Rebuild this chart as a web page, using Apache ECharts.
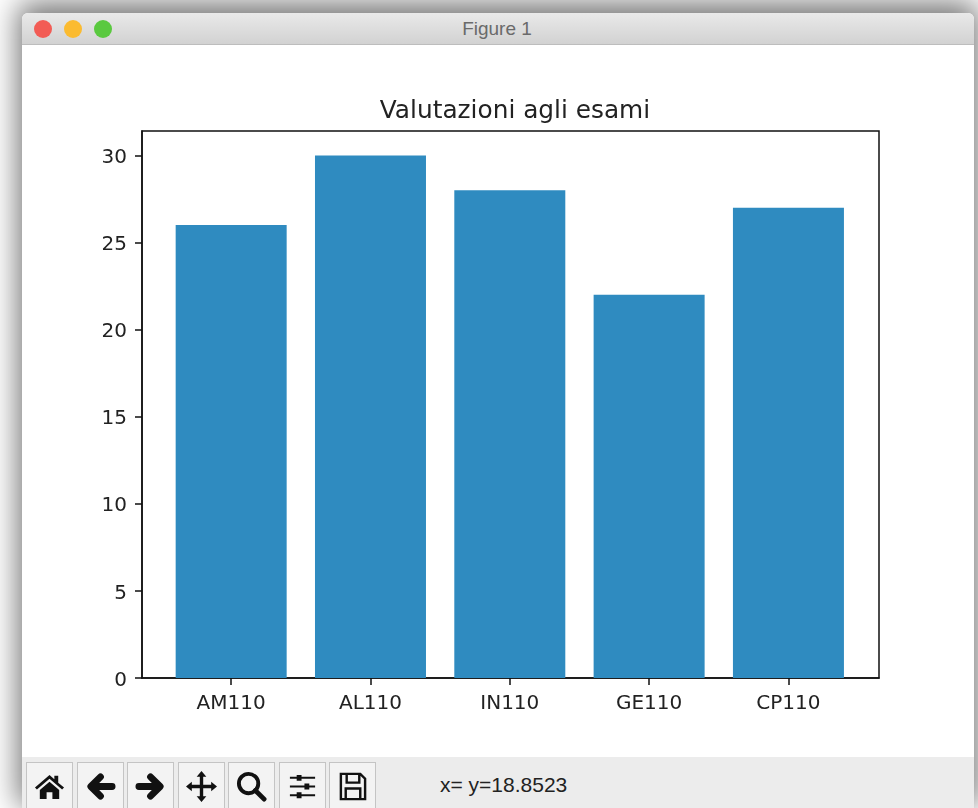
<!DOCTYPE html>
<html>
<head>
<meta charset="utf-8">
<title>Valutazioni agli esami</title>
<script src="https://cdn.jsdelivr.net/npm/echarts@6/dist/echarts.min.js"></script>
<style>
  html, body { margin: 0; padding: 0; width: 978px; height: 808px; overflow: hidden; background: #fff; }
  #win { position: absolute; left: 22px; top: 13px; width: 952px; height: 795px; background: #fff; border-radius: 6px 6px 0 0; box-shadow: 0 -6px 30px 4px rgba(0,0,0,.55); }
  #bar { position: absolute; left: 0; top: 0; width: 100%; height: 31px; background: linear-gradient(#e9e9e9, #d2d2d2); border-bottom: 1px solid #bdbdbd; border-radius: 6px 6px 0 0; }
  .dot { position: absolute; top: 7px; width: 18px; height: 18px; border-radius: 50%; }
  #name { position: absolute; left: 0; width: 100%; top: 5px; text-align: center; font: 19px "Liberation Sans", sans-serif; color: #6a6a6a; margin-left: -1px; }
  #tools { position: absolute; left: 0; top: 744px; width: 100%; height: 51px; background: #ececec; overflow: hidden; }
  .btn { position: absolute; top: 5px; width: 45px; height: 46px; border: 1px solid #c4c4c4; border-bottom: 0; background: #f3f3f3; }
  .btn svg { position: absolute; left: 7px; top: 8px; width: 31px; height: 31px; }
  #coord { position: absolute; left: 418px; top: 16px; font: 21px "Liberation Sans", sans-serif; color: #222; line-height: 24px; }
  #main { position: absolute; left: 0; top: 0; width: 978px; height: 808px; filter: blur(0.4px); }
</style>
</head>
<body>
<div id="win">
  <div id="bar">
    <div class="dot" style="left:12px;background:#f25c55"></div>
    <div class="dot" style="left:42px;background:#fbbb30"></div>
    <div class="dot" style="left:72px;background:#5ac93f"></div>
    <div id="name">Figure 1</div>
  </div>
  <div id="tools">
    <div class="btn" style="left:4px"><svg viewBox="0 0 32 32"><path d="M16 4 1 17l2 2L16 8l13 11 2-2-6-5V5h-4v3.500zM6 19.500V29h7v-7h6v7h7v-9.500L16 11z" fill="#111"/></svg></div>
    <div class="btn" style="left:55px"><svg viewBox="0 0 32 32"><path d="M28 16H7M16 6 6 16l10 10" fill="none" stroke="#111" stroke-width="7" stroke-linecap="round" stroke-linejoin="round"/></svg></div>
    <div class="btn" style="left:105px"><svg viewBox="0 0 32 32"><path d="M4 16h21M16 6l10 10-10 10" fill="none" stroke="#111" stroke-width="7" stroke-linecap="round" stroke-linejoin="round"/></svg></div>
    <div class="btn" style="left:156px"><svg viewBox="0 0 32 32"><path d="M16 3v26M3 16h26" stroke="#111" stroke-width="3.500"/><path d="M16 0l5 6H11zM16 32l-5-6h10zM0 16l6-5v10zM32 16l-6 5V11z" fill="#111"/></svg></div>
    <div class="btn" style="left:206px"><svg viewBox="0 0 32 32"><circle cx="13" cy="13" r="10" fill="none" stroke="#111" stroke-width="4"/><path d="M20 20l9 9" stroke="#111" stroke-width="5" stroke-linecap="round"/></svg></div>
    <div class="btn" style="left:257px"><svg viewBox="0 0 32 32"><path d="M3 7h26M3 16h26M3 25h26" stroke="#111" stroke-width="2"/><path d="M10 4h5v6h-5zM18 13h5v6h-5zM10 22h5v6h-5z" fill="#111"/></svg></div>
    <div class="btn" style="left:307px"><svg viewBox="0 0 32 32"><path d="M4 3h20l5 5v21H4zM10 3v9h13V3M9 29V18h15v11" fill="none" stroke="#111" stroke-width="2.500"/></svg></div>
    <div id="coord">x= y=18.8523</div>
  </div>
</div>
<div id="main"></div>
<script>
const exams = ["AM110", "AL110", "IN110", "GE110", "CP110"];
const grades = [26, 30, 28, 22, 27];
const examPositions = [0, 1, 2, 3, 4];
const chartTitle = "Valutazioni agli esami";

const myChart = echarts.init(document.getElementById("main"), null, { renderer: "canvas" });

myChart.setOption({
  backgroundColor: "transparent",
  animation: false,
  title: {
    text: chartTitle,
    left: 510,
    top: 94,
    textAlign: "center",
    textStyle: { fontFamily: "DejaVu Sans", fontSize: 24.8, fontWeight: "normal", color: "#222" }
  },
  grid: {
    left: 142, top: 131, width: 737, height: 547,
    show: true, borderColor: "#111", borderWidth: 1.5
  },
  xAxis: {
    type: "value",
    min: -0.64,
    max: 4.65,
    splitLine: { show: false },
    axisLine: { onZero: false, lineStyle: { color: "#111", width: 1.5 } },
    axisTick: { customValues: examPositions, length: 7, lineStyle: { color: "#111", width: 1.5 } },
    axisLabel: {
      customValues: examPositions,
      formatter: function (v) { return exams[Math.round(v)]; },
      fontFamily: "DejaVu Sans", fontSize: 20, color: "#222", margin: 16
    }
  },
  yAxis: {
    type: "value",
    min: 0,
    max: 31.4,
    interval: 5,
    splitLine: { show: false },
    axisLine: { show: true, onZero: false, lineStyle: { color: "#111", width: 1.5 } },
    axisTick: { show: true, length: 7, lineStyle: { color: "#111", width: 1.5 } },
    axisLabel: {
      fontFamily: "DejaVu Sans", fontSize: 20, color: "#222", margin: 15,
      // nudges the digits down a little from the tick
      verticalAlign: "top",
      lineHeight: 5,
      showMaxLabel: false
    }
  },
  series: [{
    type: "bar",
    barWidth: 111,
    itemStyle: { color: "#2f8bc0" },
    data: examPositions.map(function (p, i) { return [p, grades[i]]; })
  }]
});
</script>
</body>
</html>
